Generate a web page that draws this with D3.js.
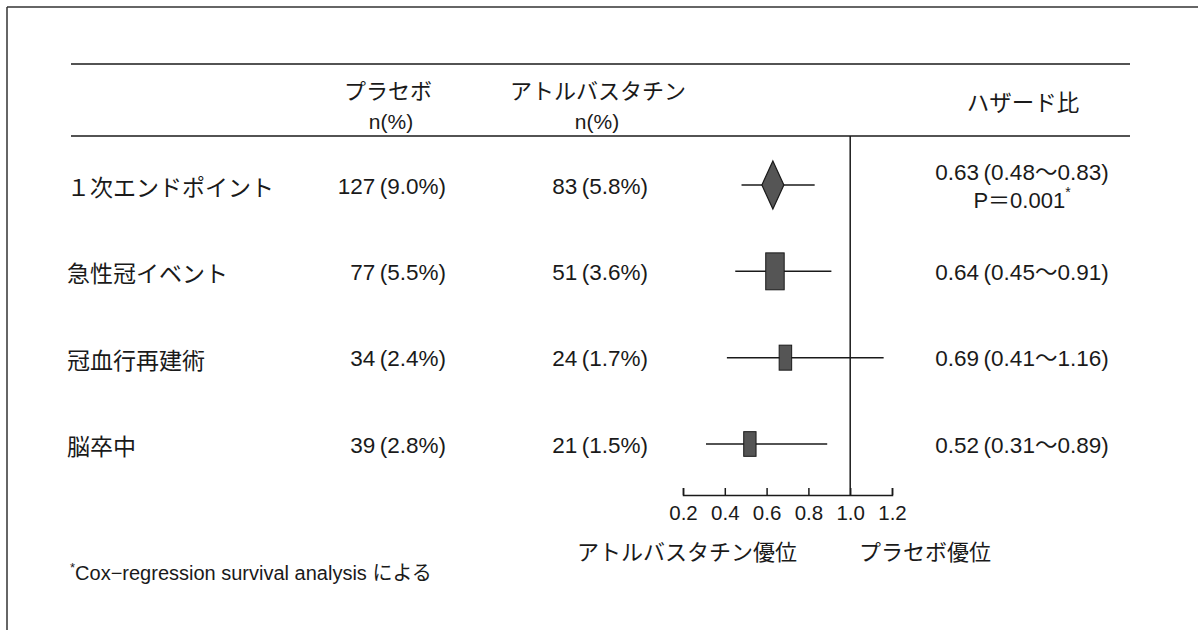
<!DOCTYPE html>
<html lang="ja">
<head>
<meta charset="utf-8">
<script src="https://cdn.jsdelivr.net/npm/d3@7"></script>
<style>
  html, body { margin: 0; padding: 0; background: #fff; }
  svg { display: block; }
  .lat { font-family: 'Liberation Sans', Arial, 'Noto Sans CJK JP', sans-serif; fill: #1a1a1a; }
  .jp  { font-family: 'Noto Sans CJK JP', 'Liberation Sans', sans-serif; fill: #1a1a1a; }
</style>
</head>
<body>
<svg id="chart" width="1198" height="630"></svg>
<script>
// Endpoints and event counts per arm
const categories   = ["１次エンドポイント", "急性冠イベント", "冠血行再建術", "脳卒中"];
const placeboN     = [127, 77, 34, 39];
const placeboPct   = [9.0, 5.5, 2.4, 2.8];
const atorvaN      = [83, 51, 24, 21];
const atorvaPct    = [5.8, 3.6, 1.7, 1.5];

// Hazard ratios with 95% confidence limits
const hazardRatio  = [0.63, 0.64, 0.69, 0.52];
const ciLower      = [0.48, 0.45, 0.41, 0.31];
const ciUpper      = [0.83, 0.91, 1.16, 0.89];
const rowKind      = ["primary", "component", "component", "component"];
const pValueText   = ["P＝0.001", null, null, null];

// Axis ticks and captions
const tickValues   = [0.2, 0.4, 0.6, 0.8, 1.0, 1.2];
const headPlacebo  = ["プラセボ", "n(%)"];
const headAtorva   = ["アトルバスタチン", "n(%)"];
const headHR       = "ハザード比";
const favourLeft   = "アトルバスタチン優位";
const favourRight  = "プラセボ優位";
const footnote     = "Cox−regression survival analysis による";

const svg = d3.select("#chart");
const ink = "#1a1a1a";
const thin = "\u2009";

// Frame lines (top and left edges)
svg.append("line").attr("x1", 7).attr("y1", 7).attr("x2", 1198).attr("y2", 7)
  .attr("stroke", "#333").attr("stroke-width", 1.5);
svg.append("line").attr("x1", 7).attr("y1", 7).attr("x2", 7).attr("y2", 630)
  .attr("stroke", "#333").attr("stroke-width", 1.5);

// Table rules
[64, 136].forEach(y => {
  svg.append("line").attr("x1", 71).attr("x2", 1130).attr("y1", y).attr("y2", y)
    .attr("stroke", ink).attr("stroke-width", 1.5);
});

// Scales
const x = d3.scaleLinear().domain([0.2, 1.2]).range([683, 892]);
const y = d3.scalePoint().domain(categories).range([185, 444]);
const axisY = 495;

// Column headers
function header(txt, cls, xc, yc, size) {
  svg.append("text").attr("class", cls).attr("x", xc).attr("y", yc)
    .attr("text-anchor", "middle").attr("dominant-baseline", "central")
    .attr("font-size", size).text(txt);
}
header(headPlacebo[0], "jp", 388, 89, 22);
header(headPlacebo[1], "lat", 391, 121, 21);
header(headAtorva[0], "jp", 598, 89, 22);
header(headAtorva[1], "lat", 597, 121, 21);
header(headHR, "jp", 1023, 101, 22.5);

// Row cells
const rows = categories.map((c, i) => ({
  cat: c, pn: placeboN[i], pp: placeboPct[i], an: atorvaN[i], ap: atorvaPct[i],
  hr: hazardRatio[i], lo: ciLower[i], hi: ciUpper[i], kind: rowKind[i], p: pValueText[i]
}));

const g = svg.append("g");
g.selectAll("text.cat").data(rows).join("text")
  .attr("class", "jp cat").attr("x", 67).attr("y", d => y(d.cat) + 1)
  .attr("dominant-baseline", "central").attr("font-size", 23)
  .text(d => d.cat);

g.selectAll("text.pl").data(rows).join("text")
  .attr("class", "lat pl").attr("x", 446).attr("y", d => y(d.cat) + 1)
  .attr("text-anchor", "end").attr("dominant-baseline", "central").attr("font-size", 22.5)
  .text(d => `${d.pn}${thin}(${d.pp.toFixed(1)}%)`);

g.selectAll("text.at").data(rows).join("text")
  .attr("class", "lat at").attr("x", 648).attr("y", d => y(d.cat) + 1)
  .attr("text-anchor", "end").attr("dominant-baseline", "central").attr("font-size", 22.5)
  .text(d => `${d.an}${thin}(${d.ap.toFixed(1)}%)`);

g.selectAll("text.hr").data(rows).join("text")
  .attr("class", "lat hr").attr("x", 1022)
  .attr("y", d => d.p ? y(d.cat) - 13 : y(d.cat) + 1)
  .attr("text-anchor", "middle").attr("dominant-baseline", "central").attr("font-size", 22.5)
  .text(d => `${d.hr.toFixed(2)}${thin}(${d.lo.toFixed(2)}～${d.hi.toFixed(2)})`);

rows.filter(d => d.p).forEach(d => {
  const t = g.append("text").attr("class", "lat").attr("x", 1022).attr("y", y(d.cat) + 15)
    .attr("text-anchor", "middle").attr("dominant-baseline", "central").attr("font-size", 22);
  t.append("tspan").text(d.p);
  t.append("tspan").attr("font-size", 14).attr("dy", -8).text("*");
});

// Reference line at HR = 1
svg.append("line").attr("x1", x(1)).attr("x2", x(1)).attr("y1", 136).attr("y2", axisY)
  .attr("stroke", ink).attr("stroke-width", 1.5);

// Confidence intervals
g.selectAll("line.ci").data(rows).join("line")
  .attr("class", "ci")
  .attr("x1", d => x(d.lo)).attr("x2", d => x(d.hi))
  .attr("y1", d => y(d.cat)).attr("y2", d => y(d.cat))
  .attr("stroke", ink).attr("stroke-width", 1.5);

// Box size follows precision (inverse of log CI width)
const precision = d => 1 / Math.log(d.hi / d.lo);
g.selectAll("rect.pt").data(rows.filter(d => d.kind === "component")).join("rect")
  .attr("class", "pt")
  .attr("x", d => x(d.hr) - 6.5 * precision(d))
  .attr("y", d => y(d.cat) - 13 * precision(d))
  .attr("width", d => 13 * precision(d))
  .attr("height", d => 26 * precision(d))
  .attr("fill", "#555").attr("stroke", ink).attr("stroke-width", 1);

// Overall estimate drawn as a diamond
g.selectAll("path.dm").data(rows.filter(d => d.kind === "primary")).join("path")
  .attr("class", "dm")
  .attr("d", d => {
    const cx = x(d.hr), cy = y(d.cat);
    return `M${cx},${cy - 24} L${cx + 11},${cy} L${cx},${cy + 24} L${cx - 11},${cy} Z`;
  })
  .attr("fill", "#555").attr("stroke", ink).attr("stroke-width", 1.2);

// Hazard-ratio axis
const axis = d3.axisBottom(x).tickValues(tickValues).tickFormat(d3.format(".1f"))
  .tickSize(-7).tickPadding(10);
const ag = svg.append("g").attr("transform", `translate(0,${axisY})`).call(axis);
ag.selectAll("path, line").attr("stroke", ink).attr("stroke-width", 1.5);
ag.selectAll("text").attr("font-size", 20.5).attr("fill", ink)
  .style("font-family", "'Liberation Sans', Arial, sans-serif");

// Favour captions
svg.append("text").attr("class", "jp").attr("x", 687).attr("y", 550)
  .attr("text-anchor", "middle").attr("dominant-baseline", "central").attr("font-size", 22)
  .text(favourLeft);
svg.append("text").attr("class", "jp").attr("x", 925).attr("y", 550)
  .attr("text-anchor", "middle").attr("dominant-baseline", "central").attr("font-size", 22)
  .text(favourRight);

// Footnote
const fn = svg.append("text").attr("class", "lat").attr("x", 70).attr("y", 573)
  .attr("dominant-baseline", "central").attr("font-size", 20);
fn.append("tspan").attr("font-size", 13).attr("dy", -6).text("*");
fn.append("tspan").attr("dy", 6).text(footnote);
</script>
</body>
</html>
